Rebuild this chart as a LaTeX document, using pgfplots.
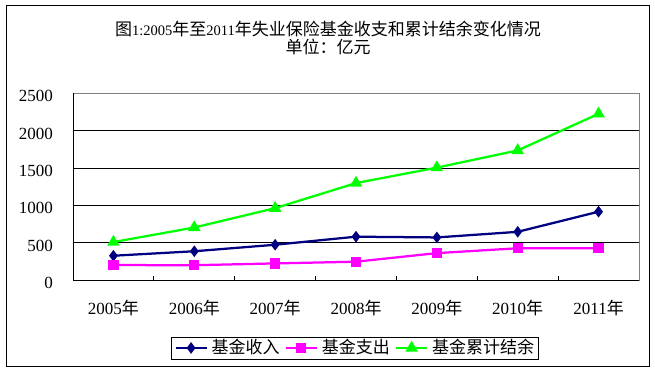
\documentclass[border=0pt]{standalone}
\usepackage{pgfplots}
\pgfplotsset{compat=1.18}
\usepackage{fontspec}
\setmainfont{Liberation Serif}
\newfontfamily\cjk{Noto Sans CJK SC}
\newcommand{\C}[1]{{\cjk #1}}
\definecolor{navy}{RGB}{0,0,128}
\definecolor{mag}{RGB}{255,0,255}
\definecolor{grn}{RGB}{0,255,0}
\begin{document}
\fontsize{17bp}{20bp}\selectfont
\begin{tikzpicture}
\useasboundingbox (0,0) rectangle (655bp,372bp);
\fill[white] (0,0) rectangle (655bp,372bp);
\draw[line width=1bp] (6bp,5.5bp) rectangle (649bp,366bp);
\node[anchor=base, inner sep=0pt] at (328bp,336bp) {\C{图}{\fontsize{14.5bp}{17bp}\selectfont 1:2005}\C{年至}{\fontsize{14.5bp}{17bp}\selectfont 2011}\C{年失业保险基金收支和累计结余变化情况}};
\node[anchor=base, inner sep=0pt] at (328bp,318bp) {\C{单位：亿元}};
\begin{axis}[
  at={(73bp,92bp)}, anchor=south west,
  scale only axis, width=566bp, height=186.7bp,
  xmin=-0.5, xmax=6.5, ymin=0, ymax=2500,
  xtick={0,...,6},
  xticklabels={2005\C{年},2006\C{年},2007\C{年},2008\C{年},2009\C{年},2010\C{年},2011\C{年}},
  ytick={0,500,...,2500},
  major tick length=0pt,
  xtick pos=bottom, ytick pos=left,
  extra x ticks={0.5,1.5,...,5.5}, extra x tick labels={},
  extra x tick style={major tick length=3.5bp, tick style={black, line width=0.8bp}},
  extra y ticks={500,1000,1500,2000}, extra y tick labels={},
  extra y tick style={grid=major, major tick length=0pt},
  grid style={black, line width=0.8bp},
  axis line style={draw=gray, line width=0.8bp},
  xticklabel style={anchor=base, yshift=-34.3bp, inner sep=0pt},
  yticklabel style={anchor=base east, xshift=-20bp, yshift=-8.4bp, inner sep=0pt},
  tick label style={font=\fontsize{17bp}{20bp}\selectfont},
  /pgf/number format/assume math mode=true,
  /pgf/number format/1000 sep={},
  clip=false,
  legend columns=3,
  legend cell align=left,
  legend style={at={(0.498,-0.364)}, anchor=center, draw=black, line width=0.8bp,
    inner xsep=3bp, inner ysep=1.5bp, font=\fontsize{17bp}{20bp}\selectfont,
    nodes={inner sep=1bp},
    /tikz/every odd column/.append style={column sep=3bp},
    /tikz/every even column/.append style={column sep=4bp}},
  legend image code/.code={\draw[mark repeat=2, mark phase=2, #1] plot coordinates {(0bp,0bp)(15.5bp,0bp)(31bp,0bp)};},
  every axis plot/.append style={line width=2.25bp, mark options={solid, line width=0.5bp}},
]
\addplot[navy, mark=diamond*, mark size=4bp, mark options={fill=navy}] coordinates {
  (0,325) (1,385) (2,472) (3,580) (4,570) (5,645) (6,915)};
\addlegendentry{\C{基金收入}}
\addplot[mag, mark=square*, mark size=4bp, mark options={fill=mag}] coordinates {
  (0,200) (1,198) (2,222) (3,245) (4,360) (5,425) (6,425)};
\addlegendentry{\C{基金支出}}
\addplot[grn, mark=triangle*, mark size=5bp, mark options={fill=grn}] coordinates {
  (0,508) (1,703) (2,962) (3,1298) (4,1505) (5,1735) (6,2225)};
\addlegendentry{\C{基金累计结余}}
\draw[black, line width=0.8bp] (rel axis cs:0,1) -- (rel axis cs:0,0) -- (rel axis cs:1,0);
\end{axis}
\end{tikzpicture}
\end{document}
